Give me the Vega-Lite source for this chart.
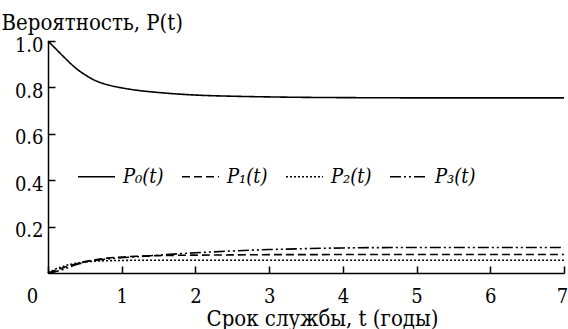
{
  "$schema": "https://vega.github.io/schema/vega-lite/v6.json",
  "width": 516,
  "height": 232,
  "autosize": {"type": "none"},
  "padding": {"left": 48, "top": 41, "right": 4, "bottom": 56},
  "background": "white",
  "config": {
    "view": {"stroke": null},
    "font": "DejaVu Serif Condensed, DejaVu Serif",
    "axis": {
      "grid": false,
      "domainColor": "black",
      "domainWidth": 1.5,
      "tickColor": "black",
      "tickWidth": 1.5,
      "tickSize": -7,
      "labelFont": "DejaVu Serif Condensed, DejaVu Serif",
      "labelFontSize": 20,
      "labelColor": "black",
      "labelFlush": false,
      "titleFont": "DejaVu Serif Condensed, DejaVu Serif",
      "titleFontSize": 22,
      "titleFontWeight": "normal",
      "titleColor": "black"
    }
  },
  "data": {
    "values": [
      {"t": 0, "s": "P₀(t)", "p": 1.0},
      {"t": 0.1, "s": "P₀(t)", "p": 0.968},
      {"t": 0.2, "s": "P₀(t)", "p": 0.936},
      {"t": 0.3, "s": "P₀(t)", "p": 0.905},
      {"t": 0.4, "s": "P₀(t)", "p": 0.877},
      {"t": 0.5, "s": "P₀(t)", "p": 0.855},
      {"t": 0.6, "s": "P₀(t)", "p": 0.836},
      {"t": 0.7, "s": "P₀(t)", "p": 0.822},
      {"t": 0.8, "s": "P₀(t)", "p": 0.812},
      {"t": 1.0, "s": "P₀(t)", "p": 0.798},
      {"t": 1.2, "s": "P₀(t)", "p": 0.788},
      {"t": 1.5, "s": "P₀(t)", "p": 0.778},
      {"t": 2.0, "s": "P₀(t)", "p": 0.767},
      {"t": 2.5, "s": "P₀(t)", "p": 0.762},
      {"t": 3.0, "s": "P₀(t)", "p": 0.759},
      {"t": 3.5, "s": "P₀(t)", "p": 0.757},
      {"t": 4.0, "s": "P₀(t)", "p": 0.756},
      {"t": 5.0, "s": "P₀(t)", "p": 0.755},
      {"t": 6.0, "s": "P₀(t)", "p": 0.755},
      {"t": 7.0, "s": "P₀(t)", "p": 0.755},

      {"t": 0, "s": "P₁(t)", "p": 0},
      {"t": 0.1, "s": "P₁(t)", "p": 0.012},
      {"t": 0.2, "s": "P₁(t)", "p": 0.022},
      {"t": 0.3, "s": "P₁(t)", "p": 0.032},
      {"t": 0.4, "s": "P₁(t)", "p": 0.041},
      {"t": 0.5, "s": "P₁(t)", "p": 0.049},
      {"t": 0.6, "s": "P₁(t)", "p": 0.055},
      {"t": 0.7, "s": "P₁(t)", "p": 0.06},
      {"t": 0.8, "s": "P₁(t)", "p": 0.064},
      {"t": 1.0, "s": "P₁(t)", "p": 0.069},
      {"t": 1.2, "s": "P₁(t)", "p": 0.072},
      {"t": 1.5, "s": "P₁(t)", "p": 0.075},
      {"t": 2.0, "s": "P₁(t)", "p": 0.077},
      {"t": 2.5, "s": "P₁(t)", "p": 0.078},
      {"t": 3.0, "s": "P₁(t)", "p": 0.079},
      {"t": 3.5, "s": "P₁(t)", "p": 0.079},
      {"t": 4.0, "s": "P₁(t)", "p": 0.08},
      {"t": 5.0, "s": "P₁(t)", "p": 0.08},
      {"t": 6.0, "s": "P₁(t)", "p": 0.08},
      {"t": 7.0, "s": "P₁(t)", "p": 0.08},

      {"t": 0, "s": "P₂(t)", "p": 0},
      {"t": 0.1, "s": "P₂(t)", "p": 0.016},
      {"t": 0.2, "s": "P₂(t)", "p": 0.028},
      {"t": 0.3, "s": "P₂(t)", "p": 0.037},
      {"t": 0.4, "s": "P₂(t)", "p": 0.043},
      {"t": 0.5, "s": "P₂(t)", "p": 0.047},
      {"t": 0.6, "s": "P₂(t)", "p": 0.05},
      {"t": 0.7, "s": "P₂(t)", "p": 0.052},
      {"t": 0.8, "s": "P₂(t)", "p": 0.053},
      {"t": 1.0, "s": "P₂(t)", "p": 0.054},
      {"t": 1.2, "s": "P₂(t)", "p": 0.055},
      {"t": 1.5, "s": "P₂(t)", "p": 0.055},
      {"t": 2.0, "s": "P₂(t)", "p": 0.055},
      {"t": 2.5, "s": "P₂(t)", "p": 0.055},
      {"t": 3.0, "s": "P₂(t)", "p": 0.055},
      {"t": 3.5, "s": "P₂(t)", "p": 0.055},
      {"t": 4.0, "s": "P₂(t)", "p": 0.055},
      {"t": 5.0, "s": "P₂(t)", "p": 0.055},
      {"t": 6.0, "s": "P₂(t)", "p": 0.055},
      {"t": 7.0, "s": "P₂(t)", "p": 0.055},

      {"t": 0, "s": "P₃(t)", "p": 0},
      {"t": 0.1, "s": "P₃(t)", "p": 0.006},
      {"t": 0.2, "s": "P₃(t)", "p": 0.015},
      {"t": 0.3, "s": "P₃(t)", "p": 0.027},
      {"t": 0.4, "s": "P₃(t)", "p": 0.038},
      {"t": 0.5, "s": "P₃(t)", "p": 0.046},
      {"t": 0.6, "s": "P₃(t)", "p": 0.053},
      {"t": 0.7, "s": "P₃(t)", "p": 0.057},
      {"t": 0.8, "s": "P₃(t)", "p": 0.06},
      {"t": 1.0, "s": "P₃(t)", "p": 0.066},
      {"t": 1.2, "s": "P₃(t)", "p": 0.07},
      {"t": 1.5, "s": "P₃(t)", "p": 0.077},
      {"t": 2.0, "s": "P₃(t)", "p": 0.087},
      {"t": 2.5, "s": "P₃(t)", "p": 0.095},
      {"t": 3.0, "s": "P₃(t)", "p": 0.101},
      {"t": 3.5, "s": "P₃(t)", "p": 0.105},
      {"t": 4.0, "s": "P₃(t)", "p": 0.108},
      {"t": 5.0, "s": "P₃(t)", "p": 0.11},
      {"t": 6.0, "s": "P₃(t)", "p": 0.11},
      {"t": 7.0, "s": "P₃(t)", "p": 0.11}
    ]
  },
  "mark": {"type": "line", "color": "black", "strokeWidth": 1.6, "interpolate": "monotone"},
  "encoding": {
    "x": {
      "field": "t",
      "type": "quantitative",
      "scale": {"domain": [0, 7], "nice": false},
      "axis": {
        "values": [0, 1, 2, 3, 4, 5, 6, 7],
        "format": "d",
        "labelPadding": 36,
        "labelBaseline": "alphabetic",
        "labelOffset": {"condition": [{"test": "datum.value === 0", "value": -16}, {"test": "datum.value === 7", "value": -2}], "value": 0},
        "title": "Срок службы, t (годы)",
        "titleX": 274,
        "titleY": 52,
        "titleBaseline": "alphabetic",
        "titleAlign": "center"
      }
    },
    "y": {
      "field": "p",
      "type": "quantitative",
      "scale": {"domain": [0, 1], "nice": false},
      "axis": {
        "values": [0.2, 0.4, 0.6, 0.8, 1.0],
        "format": ".1f",
        "labelPadding": 12,
        "labelOffset": 4,
        "title": "Вероятность, P(t)",
        "titleAngle": 0,
        "titleAlign": "left",
        "titleBaseline": "alphabetic",
        "titleX": -47,
        "titleY": -12
      }
    },
    "strokeDash": {
      "field": "s",
      "type": "nominal",
      "scale": {
        "domain": ["P₀(t)", "P₁(t)", "P₂(t)", "P₃(t)"],
        "range": [[1, 0], [8, 4], [2, 2], [11, 3, 2, 3, 2, 3]]
      },
      "legend": {
        "title": null,
        "orient": "none",
        "direction": "horizontal",
        "legendX": 29,
        "legendY": 116,
        "symbolType": "stroke",
        "symbolSize": 1369,
        "symbolStrokeWidth": 1.6,
        "symbolStrokeColor": "black",
        "labelFont": "DejaVu Serif Condensed, DejaVu Serif",
        "labelFontStyle": "italic",
        "labelFontSize": 20,
        "labelColor": "black",
        "labelOffset": 7,
        "columnPadding": 14,
        "labelLimit": 200
      }
    }
  }
}
